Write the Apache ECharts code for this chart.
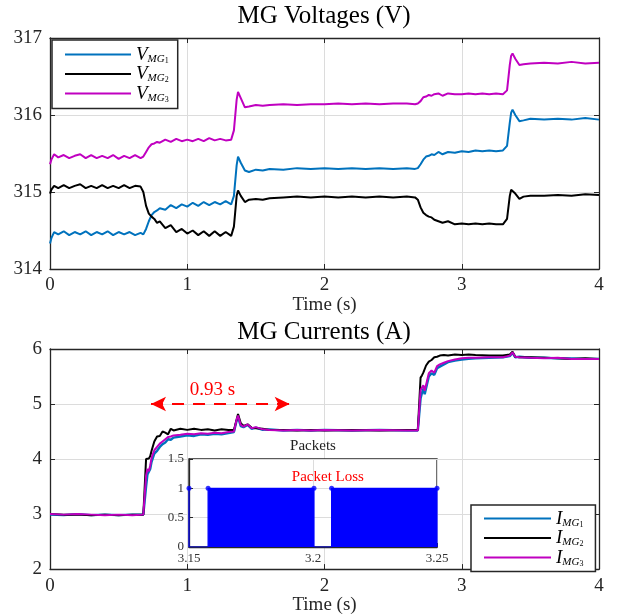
<!DOCTYPE html>
<html><head><meta charset="utf-8">
<script src="https://cdn.jsdelivr.net/npm/echarts@6/dist/echarts.min.js"></script>
<style>html,body{margin:0;padding:0;background:#fff}#c{width:617px;height:616px}</style>
</head><body><div id="c"></div>
<script>
// ---------- DATA ----------
const timeV = [
 0, 0.01, 0.03, 0.06, 0.1, 0.14, 0.18, 0.22, 0.26, 0.3,
 0.34, 0.38, 0.42, 0.46, 0.5, 0.54, 0.58, 0.62, 0.66, 0.68,
 0.7, 0.72, 0.74, 0.76, 0.78, 0.8, 0.84, 0.88, 0.92, 0.96,
 1.0, 1.04, 1.08, 1.12, 1.16, 1.2, 1.24, 1.28, 1.32, 1.34,
 1.36, 1.37, 1.39, 1.42, 1.45, 1.5, 1.55, 1.6, 1.7, 1.8,
 1.9, 2.0, 2.1, 2.2, 2.3, 2.4, 2.5, 2.6, 2.66, 2.68,
 2.7, 2.72, 2.74, 2.76, 2.78, 2.8, 2.83, 2.86, 2.9, 2.95,
 3.0, 3.05, 3.1, 3.15, 3.2, 3.25, 3.3, 3.33, 3.35, 3.36,
 3.37, 3.39, 3.42, 3.45, 3.5, 3.6, 3.7, 3.8, 3.9, 4.0
];
const vMG1 = [
 314.33, 314.40, 314.48, 314.45, 314.49, 314.44, 314.48, 314.45, 314.49, 314.44,
 314.48, 314.45, 314.49, 314.44, 314.48, 314.45, 314.48, 314.44, 314.47, 314.45,
 314.52, 314.62, 314.70, 314.74, 314.76, 314.79, 314.77, 314.83, 314.79, 314.84,
 314.81, 314.86, 314.82, 314.87, 314.83, 314.87, 314.84, 314.88, 314.84, 314.95,
 315.35, 315.46, 315.38, 315.28, 315.26, 315.29, 315.28, 315.30, 315.29, 315.31,
 315.30, 315.31, 315.30, 315.31, 315.30, 315.31, 315.30, 315.31, 315.30, 315.31,
 315.36, 315.42, 315.46, 315.47, 315.49, 315.48, 315.52, 315.49, 315.52, 315.51,
 315.53, 315.52, 315.54, 315.53, 315.54, 315.53, 315.54, 315.60, 315.90, 316.03,
 316.07, 316.00, 315.92, 315.93, 315.95, 315.94, 315.95, 315.94, 315.96, 315.94
];
const vMG2 = [
 314.98, 315.03, 315.08, 315.05, 315.09, 315.05, 315.08, 315.10, 315.05, 315.08,
 315.05, 315.09, 315.05, 315.08, 315.05, 315.09, 315.05, 315.08, 315.07, 315.00,
 314.82, 314.72, 314.68, 314.65, 314.60, 314.62, 314.53, 314.57, 314.48, 314.52,
 314.46, 314.50, 314.44, 314.49, 314.43, 314.49, 314.43, 314.48, 314.43, 314.55,
 314.95, 315.02, 314.95, 314.87, 314.90, 314.91, 314.90, 314.92, 314.93, 314.94,
 314.93, 314.94, 314.93, 314.94, 314.93, 314.94, 314.93, 314.94, 314.93, 314.90,
 314.80, 314.73, 314.70, 314.68, 314.67, 314.64, 314.62, 314.60, 314.62, 314.58,
 314.59, 314.58, 314.59, 314.58, 314.59, 314.58, 314.58, 314.65, 314.95, 315.03,
 315.05, 314.98, 314.91, 314.94, 314.95, 314.95, 314.96, 314.95, 314.97, 314.96
];
const vMG3 = [
 315.36, 315.42, 315.49, 315.45, 315.48, 315.44, 315.47, 315.49, 315.44, 315.48,
 315.44, 315.47, 315.44, 315.48, 315.43, 315.47, 315.44, 315.48, 315.44, 315.46,
 315.52, 315.58, 315.62, 315.63, 315.65, 315.64, 315.68, 315.65, 315.69, 315.66,
 315.68, 315.66, 315.69, 315.66, 315.70, 315.67, 315.69, 315.67, 315.68, 315.80,
 316.20, 316.30, 316.22, 316.10, 316.11, 316.13, 316.12, 316.13, 316.14, 316.13,
 316.14, 316.14, 316.15, 316.14, 316.15, 316.14, 316.15, 316.15, 316.14, 316.15,
 316.18, 316.23, 316.24, 316.26, 316.25, 316.27, 316.28, 316.25, 316.28, 316.27,
 316.27, 316.28, 316.27, 316.28, 316.27, 316.28, 316.27, 316.32, 316.65, 316.77,
 316.80, 316.73, 316.65, 316.66, 316.67, 316.68, 316.67, 316.69, 316.67, 316.68
];

const timeI = [
 0, 0.1, 0.2, 0.3, 0.4, 0.5, 0.6, 0.68, 0.70, 0.71,
 0.72, 0.73, 0.74, 0.76, 0.78, 0.80, 0.82, 0.84, 0.86, 0.88,
 0.9, 0.95, 1.0, 1.05, 1.1, 1.15, 1.2, 1.25, 1.3, 1.34,
 1.36, 1.37, 1.39, 1.41, 1.44, 1.47, 1.5, 1.55, 1.6, 1.7,
 1.8, 1.9, 2.0, 2.2, 2.4, 2.6, 2.68, 2.70, 2.71, 2.72,
 2.73, 2.74, 2.76, 2.78, 2.80, 2.82, 2.84, 2.87, 2.9, 2.95,
 3.0, 3.05, 3.1, 3.2, 3.3, 3.35, 3.37, 3.39, 3.42, 3.5,
 3.6, 3.7, 3.8, 3.9, 4.0
];
const iMG1 = [
 2.99, 2.98, 3.00, 2.98, 2.99, 2.98, 2.99, 2.99, 3.50, 3.72,
 3.73, 3.82, 3.95, 4.10, 4.15, 4.22, 4.27, 4.30, 4.36, 4.35,
 4.39, 4.41, 4.43, 4.42, 4.45, 4.44, 4.46, 4.45, 4.47, 4.49,
 4.70, 4.76, 4.60, 4.58, 4.62, 4.55, 4.57, 4.53, 4.54, 4.52,
 4.53, 4.52, 4.53, 4.52, 4.53, 4.52, 4.52, 5.10, 5.20, 5.28,
 5.18, 5.15, 5.50, 5.56, 5.53, 5.65, 5.68, 5.72, 5.76, 5.79,
 5.81, 5.82, 5.83, 5.84, 5.85, 5.87, 5.93, 5.85, 5.86, 5.84,
 5.84, 5.83, 5.83, 5.82, 5.82
];
const iMG2 = [
 3.00, 2.99, 2.99, 2.98, 2.99, 2.98, 2.99, 2.99, 4.00, 4.02,
 4.01, 4.05, 4.15, 4.32, 4.41, 4.42, 4.50, 4.48, 4.45, 4.55,
 4.52, 4.55, 4.53, 4.55, 4.53, 4.54, 4.52, 4.54, 4.53, 4.53,
 4.72, 4.82, 4.65, 4.60, 4.63, 4.57, 4.56, 4.55, 4.53, 4.53,
 4.52, 4.53, 4.52, 4.53, 4.52, 4.53, 4.53, 5.48, 5.52, 5.57,
 5.56, 5.70, 5.77, 5.80, 5.85, 5.86, 5.88, 5.89, 5.88, 5.90,
 5.89, 5.90, 5.89, 5.88, 5.88, 5.90, 5.95, 5.86, 5.85, 5.85,
 5.84, 5.83, 5.82, 5.83, 5.82
];
const iMG3 = [
 3.00, 2.99, 3.00, 2.99, 2.98, 2.99, 2.98, 2.99, 3.70, 3.82,
 3.78, 3.88, 4.02, 4.16, 4.22, 4.28, 4.32, 4.36, 4.40, 4.41,
 4.43, 4.44, 4.46, 4.45, 4.47, 4.46, 4.48, 4.47, 4.49, 4.50,
 4.72, 4.79, 4.62, 4.59, 4.63, 4.56, 4.58, 4.54, 4.53, 4.52,
 4.53, 4.52, 4.53, 4.52, 4.53, 4.52, 4.52, 5.25, 5.30, 5.34,
 5.24, 5.22, 5.56, 5.61, 5.57, 5.69, 5.72, 5.75, 5.78, 5.81,
 5.83, 5.84, 5.84, 5.85, 5.85, 5.88, 5.94, 5.86, 5.85, 5.84,
 5.83, 5.84, 5.82, 5.82, 5.82
];

// Inset: packets received (1) / lost (gaps)
const packetTimes  = [3.15, 3.15, 3.15, 3.1577, 3.1577, 3.2004, 3.2004, 3.2075, 3.2075, 3.25, 3.25];
const packetValues = [0,    1,    0,    0,      1,      1,      0,      0,      1,      1,    0];
const packetDotTimes = [3.15, 3.1577, 3.2004, 3.2075, 3.25];
const packetDotValues = [1, 1, 1, 1, 1];
const packetLossLabel = ['Packet Loss', 3.206, 1.2];

// Annotation: delay arrow
const arrowSpan = [0.736, 1.746];
const arrowLevel = 5;
const arrowText = '0.93 s';

const vNames = ['V_MG1', 'V_MG2', 'V_MG3'];
const iNames = ['I_MG1', 'I_MG2', 'I_MG3'];
const seriesColors = ['#0072BD', '#000000', '#C000C0'];

const xTicks = [0, 4, 1];
const vTicks = [314, 317, 1];
const iTicks = [2, 6, 1];
const insetXTicks = [3.15, 3.25, 0.05];
const insetYTicks = [0, 1.5, 0.5];

// ---------- CHART ----------
const SERIF = '"Liberation Serif", "Times New Roman", serif';
const AX = '#262626';
const GRIDC = '#dcdcdc';
const pair = (xs, ys) => xs.map((x, i) => [x, ys[i]]);

function axisCommon(t, extra) {
  return Object.assign({
    type: 'value', min: t[0], max: t[1], interval: t[2],
    axisLine: { show: true, onZero: false, lineStyle: { color: AX, width: 1.3 } },
    axisTick: { show: true, inside: true, length: 5, lineStyle: { color: AX, width: 1 } },
    axisLabel: { fontFamily: SERIF, fontSize: 19, color: AX },
    splitLine: { show: true, lineStyle: { color: GRIDC, width: 1 } }
  }, extra);
}
function mirror(t, gridIndex, position, extra) {
  return Object.assign({
    type: 'value', gridIndex, position, min: t[0], max: t[1], interval: t[2],
    axisLine: { show: true, onZero: false, lineStyle: { color: AX, width: 1.3 } },
    axisTick: { show: true, inside: true, length: 5, lineStyle: { color: AX } },
    axisLabel: { show: false }, splitLine: { show: false }
  }, extra || {});
}

const richSub = {
  a: { fontFamily: SERIF, fontStyle: 'italic', fontSize: 19, lineHeight: 20, color: '#000' },
  b: { fontFamily: SERIF, fontStyle: 'italic', fontSize: 11, lineHeight: 8, verticalAlign: 'bottom', color: '#000' },
  c: { fontFamily: SERIF, fontSize: 8, lineHeight: 5, verticalAlign: 'bottom', color: '#000' }
};
const legendFmt = name => `{a|${name[0]}}{b|MG}{c|${name.slice(-1)}}`;

const chart = echarts.init(document.getElementById('c'), null, { renderer: 'canvas' });

const option = {
  animation: false,
  backgroundColor: '#fff',
  title: [
    { text: 'MG Voltages (V)', left: 324, top: 4, textAlign: 'center', padding: 0,
      textStyle: { fontFamily: SERIF, fontSize: 25, fontWeight: 'normal', color: '#000' } },
    { text: 'MG Currents (A)', left: 324, top: 320, textAlign: 'center', padding: 0,
      textStyle: { fontFamily: SERIF, fontSize: 25, fontWeight: 'normal', color: '#000' } },
    { text: 'Packets', left: 313, top: 439, textAlign: 'center', padding: 0,
      textStyle: { fontFamily: SERIF, fontSize: 15, fontWeight: 'normal', color: '#222' } }
  ],
  grid: [
    { left: 50, top: 38, width: 549, height: 231 },
    { left: 50, top: 349, width: 549, height: 227 },
    { left: 189, top: 459, width: 248, height: 88, show: true, backgroundColor: '#fff',
      borderColor: AX, borderWidth: 1.3, z: 3 }
  ],
  legend: [
    { data: vNames, orient: 'vertical', left: 52, top: 40, icon: 'rect', itemWidth: 66, itemHeight: 2,
      itemGap: 0, itemTextGap: 5, padding: [5, 9, 5, 13], borderColor: AX, borderWidth: 1.5,
      backgroundColor: '#fff', formatter: legendFmt, textStyle: { rich: richSub } },
    { data: iNames, orient: 'vertical', left: 471, top: 505, icon: 'rect', itemWidth: 67, itemHeight: 2,
      itemGap: 0, itemTextGap: 5, padding: [4, 12, 4, 13], borderColor: AX, borderWidth: 1.5,
      backgroundColor: '#fff', formatter: legendFmt, textStyle: { rich: richSub } }
  ],
  xAxis: [
    axisCommon(xTicks, { gridIndex: 0, position: 'bottom', name: 'Time (s)', nameLocation: 'middle', nameGap: 20,
      nameTextStyle: { fontFamily: SERIF, fontSize: 19, color: AX },
      axisLabel: { fontFamily: SERIF, fontSize: 19, color: AX, margin: 7 } }),
    mirror(xTicks, 0, 'top'),
    axisCommon(xTicks, { gridIndex: 1, position: 'bottom', name: 'Time (s)', nameLocation: 'middle', nameGap: 18,
      nameTextStyle: { fontFamily: SERIF, fontSize: 19, color: AX },
      axisLabel: { fontFamily: SERIF, fontSize: 19, color: AX, margin: 7 } }),
    mirror(xTicks, 1, 'top'),
    axisCommon(insetXTicks, { gridIndex: 2, position: 'bottom', z: 4,
      axisTick: { show: true, inside: true, length: 4, lineStyle: { color: AX } },
      axisLabel: { fontFamily: SERIF, fontSize: 13, color: '#333', margin: 5,
        formatter: v => String(+v.toFixed(2)) } })
  ],
  yAxis: [
    axisCommon(vTicks, { gridIndex: 0, position: 'left', axisLabel: { fontFamily: SERIF, fontSize: 19, color: AX, margin: 8 } }),
    mirror(vTicks, 0, 'right'),
    axisCommon(iTicks, { gridIndex: 1, position: 'left', axisLabel: { fontFamily: SERIF, fontSize: 19, color: AX, margin: 8 } }),
    mirror(iTicks, 1, 'right'),
    axisCommon(insetYTicks, { gridIndex: 2, position: 'left', z: 4,
      axisTick: { show: true, inside: true, length: 4, lineStyle: { color: AX } },
      axisLabel: { fontFamily: SERIF, fontSize: 13, color: '#333', margin: 5,
        formatter: v => String(+v.toFixed(1)) } })
  ],
  series: [
    { name: vNames[0], type: 'line', xAxisIndex: 0, yAxisIndex: 0, data: pair(timeV, vMG1), showSymbol: false,
      color: seriesColors[0], lineStyle: { width: 2, color: seriesColors[0] } },
    { name: vNames[1], type: 'line', xAxisIndex: 0, yAxisIndex: 0, data: pair(timeV, vMG2), showSymbol: false,
      color: seriesColors[1], lineStyle: { width: 2, color: seriesColors[1] } },
    { name: vNames[2], type: 'line', xAxisIndex: 0, yAxisIndex: 0, data: pair(timeV, vMG3), showSymbol: false,
      color: seriesColors[2], lineStyle: { width: 2, color: seriesColors[2] } },
    { name: iNames[0], type: 'line', xAxisIndex: 2, yAxisIndex: 2, data: pair(timeI, iMG1), showSymbol: false,
      color: seriesColors[0], lineStyle: { width: 2.4, color: seriesColors[0] },
      markLine: {
        silent: true, symbol: ['arrow', 'arrow'], symbolSize: [11, 15],
        lineStyle: { color: '#ff0000', type: [12, 9], width: 1.8 },
        label: { show: true, position: 'middle', formatter: arrowText, color: '#ff0000',
          fontFamily: SERIF, fontSize: 19, padding: [0, 16, 0, 0] },
        data: [[{ coord: [arrowSpan[0], arrowLevel] }, { coord: [arrowSpan[1], arrowLevel] }]]
      } },
    { name: iNames[1], type: 'line', xAxisIndex: 2, yAxisIndex: 2, data: pair(timeI, iMG2), showSymbol: false,
      color: seriesColors[1], lineStyle: { width: 2, color: seriesColors[1] } },
    { name: iNames[2], type: 'line', xAxisIndex: 2, yAxisIndex: 2, data: pair(timeI, iMG3), showSymbol: false,
      color: seriesColors[2], lineStyle: { width: 2, color: seriesColors[2] } },
    { name: 'Packets', type: 'line', xAxisIndex: 4, yAxisIndex: 4, z: 5, data: pair(packetTimes, packetValues),
      showSymbol: false, color: '#0000ff', lineStyle: { width: 1.2, color: '#0000ff' },
      areaStyle: { color: '#0000ff', opacity: 1 },
      markPoint: { silent: true, symbol: 'circle', symbolSize: 0,
        label: { show: true, position: 'inside', formatter: packetLossLabel[0], color: '#ff0000',
          fontFamily: SERIF, fontSize: 15 },
        data: [{ coord: [packetLossLabel[1], packetLossLabel[2]] }] } },
    { name: 'PacketDots', type: 'scatter', xAxisIndex: 4, yAxisIndex: 4, z: 6,
      data: pair(packetDotTimes, packetDotValues), symbolSize: 5, itemStyle: { color: '#0000ff' } }
  ]
};
chart.setOption(option);
</script></body></html>
